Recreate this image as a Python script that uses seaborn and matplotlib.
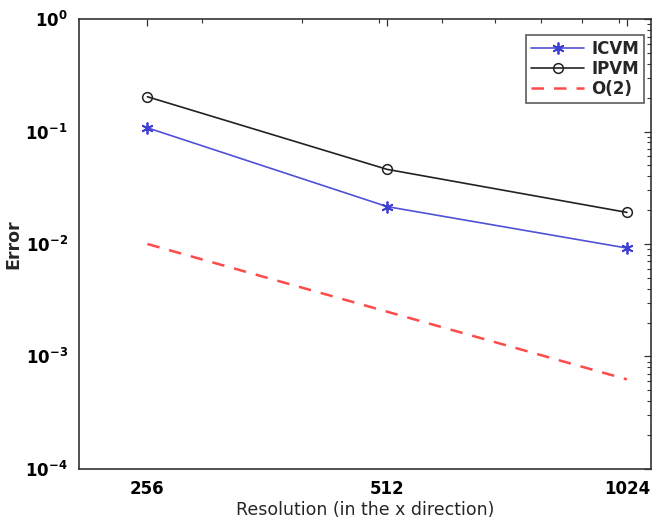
#!/usr/bin/env python3
"""Convergence plot: error vs resolution for ICVM / IPVM with O(2) reference."""

import matplotlib
matplotlib.use("Agg")
import matplotlib.pyplot as plt
from matplotlib.ticker import FixedLocator, FixedFormatter, LogLocator, NullFormatter
import pandas as pd
import seaborn as sns

# values
resolution = [256, 512, 1024]
icvm_error = [0.108, 0.0215, 0.0092]
ipvm_error = [0.204, 0.0461, 0.0191]
order2_ref = [0.0100, 0.0025, 0.000625]
x_tick_labels = ["256", "512", "1024"]

sns.set_style("white")
plt.rcParams["font.family"] = ["DejaVu Sans"]
plt.rcParams.update({
    "xtick.direction": "in",
    "ytick.direction": "in",
    "xtick.top": True,
    "ytick.right": True,
})

df = pd.DataFrame({"resolution": resolution, "ICVM": icvm_error,
                   "IPVM": ipvm_error, "O(2)": order2_ref})

fig = plt.figure(figsize=(6.52, 5.31), dpi=100)
ax = fig.add_axes([0.121, 0.117, 0.877, 0.847])

sns.lineplot(data=df, x="resolution", y="ICVM", ax=ax, color="#5050d8",
             marker=(6, 2, 0), markersize=8.5, markeredgecolor="#4040d0",
             markeredgewidth=1.3, linewidth=1.2, label="ICVM")
sns.lineplot(data=df, x="resolution", y="IPVM", ax=ax, color="#222222",
             marker="o", markersize=7, markerfacecolor="none",
             markeredgecolor="#222222", markeredgewidth=1.1,
             linewidth=1.2, label="IPVM")
sns.lineplot(data=df, x="resolution", y="O(2)", ax=ax, color="#ff4a4a",
             linestyle=(0, (5, 4)), linewidth=1.8, label="O(2)")

ax.set_xscale("log")
ax.set_yscale("log")
ax.set_xlim(210, 1097)
ax.set_ylim(1e-4, 1)

ax.xaxis.set_major_locator(FixedLocator(resolution))
ax.xaxis.set_major_formatter(FixedFormatter(x_tick_labels))
ax.xaxis.set_minor_locator(FixedLocator([300, 400, 500, 600, 700, 800, 900, 1000]))
ax.xaxis.set_minor_formatter(NullFormatter())
ax.yaxis.set_major_locator(LogLocator(base=10, numticks=10))
ax.yaxis.set_minor_locator(LogLocator(base=10, subs=range(2, 10), numticks=10))
ax.yaxis.set_minor_formatter(NullFormatter())

ax.tick_params(which="major", length=5, width=0.9, colors="#333333",
               labelcolor="black", labelsize=12, pad=8)
ax.tick_params(which="minor", length=3, width=0.8, colors="#333333")
for lab in ax.get_xticklabels() + ax.get_yticklabels():
    lab.set_fontweight("semibold")

for spine in ax.spines.values():
    spine.set_color("#333333")
    spine.set_linewidth(1.2)

ax.set_xlabel("Resolution (in the x direction)", fontsize=12.5, labelpad=2)
ax.set_ylabel("Error", fontsize=12.5, fontweight="bold", labelpad=2)

leg = ax.legend(loc="upper right", bbox_to_anchor=(0.988, 0.964),
                borderaxespad=0, fontsize=12, frameon=True, fancybox=False,
                edgecolor="#333333", handlelength=3.2, labelspacing=0.12,
                handletextpad=0.4, borderpad=0.3)
leg.get_frame().set_linewidth(1.2)
for t in leg.get_texts():
    t.set_fontweight("semibold")

fig.savefig("out.png", dpi=100)
